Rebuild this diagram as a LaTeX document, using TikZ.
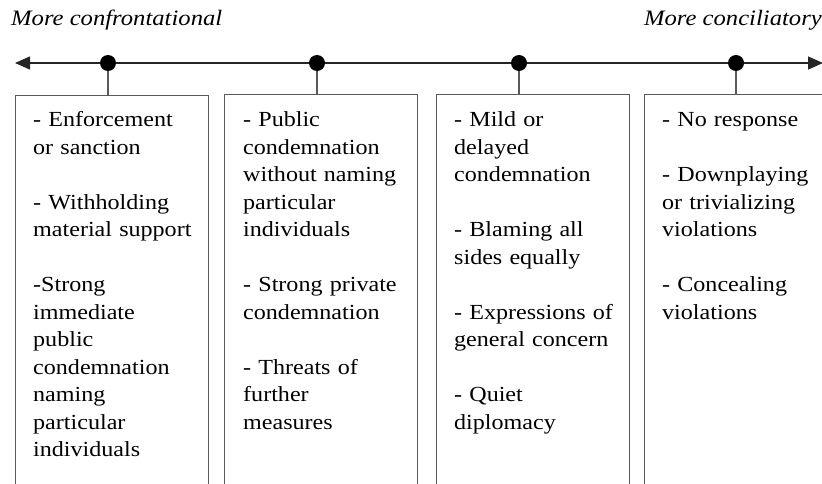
\documentclass[tikz,border=0pt]{standalone}
\usepackage{fontspec}
\setmainfont{Liberation Serif}[FakeStretch=1.12]
\usetikzlibrary{arrows.meta}
\begin{document}
\begin{tikzpicture}[x=1pt,y=1pt,
  axisline/.style={line width=1.4pt,draw=black!85,
    arrows={Triangle[length=15pt,width=13pt]-Triangle[length=15pt,width=13pt]}},
  dot/.style={circle,fill=black,inner sep=0pt,minimum size=16pt},
  stem/.style={line width=1.1pt,draw=black!65},
  panel/.style={draw=black!65,line width=1.1pt,rectangle,inner sep=0pt,
    anchor=north west,minimum height=420pt},
  items/.style={anchor=base west,inner sep=0pt,text width=190pt,align=left,
    font=\fontsize{21.5}{27.5}\selectfont},
  heading/.style={inner sep=0pt,font=\fontsize{22}{26}\selectfont\itshape}]
\useasboundingbox (0,0) rectangle (822,-484);
\clip (0,0) rectangle (822,-484);

% scale labels
\node[heading,anchor=base west] (lefthead) at (11,-26) {More confrontational};
\node[heading,anchor=base east] (righthead) at (822,-26) {More conciliatory};

% axis
\coordinate (axl) at (15,-63);
\coordinate (axr) at (823,-63);
\draw[axisline] (axl) -- (axr);

% markers on the axis
\node[dot] (d1) at (108,-63) {};
\node[dot] (d2) at (317,-63) {};
\node[dot] (d3) at (519,-63) {};
\node[dot] (d4) at (736,-63) {};

% panels
\node[panel,minimum width=193pt] (p1) at (15,-95) {};
\node[panel,minimum width=193pt] (p2) at (224,-94) {};
\node[panel,minimum width=193pt] (p3) at (436,-94) {};
\node[panel,minimum width=200pt] (p4) at (644,-94) {};

% stems from markers to panels
\draw[stem] (d1) -- (d1 |- p1.north);
\draw[stem] (d2) -- (d2 |- p2.north);
\draw[stem] (d3) -- (d3 |- p3.north);
\draw[stem] (d4) -- (d4 |- p4.north);

% panel contents
\node[items] (t1) at (33,-127) {- Enforcement\\ or sanction\\[27.5pt]
  - Withholding\\ material support\\[27.5pt]
  -Strong\\ immediate\\ public\\ condemnation\\ naming\\ particular\\ individuals};
\node[items] (t2) at (243,-127) {- Public\\ condemnation\\ without naming\\ particular\\ individuals\\[27.5pt]
  - Strong private\\ condemnation\\[27.5pt]
  - Threats of\\ further\\ measures};
\node[items] (t3) at (454,-127) {- Mild or\\ delayed\\ condemnation\\[27.5pt]
  - Blaming all\\ sides equally\\[27.5pt]
  - Expressions of\\ general concern\\[27.5pt]
  - Quiet\\ diplomacy};
\node[items] (t4) at (662,-127) {- No response\\[27.5pt]
  - Downplaying\\ or trivializing\\ violations\\[27.5pt]
  - Concealing\\ violations};
\end{tikzpicture}
\end{document}
